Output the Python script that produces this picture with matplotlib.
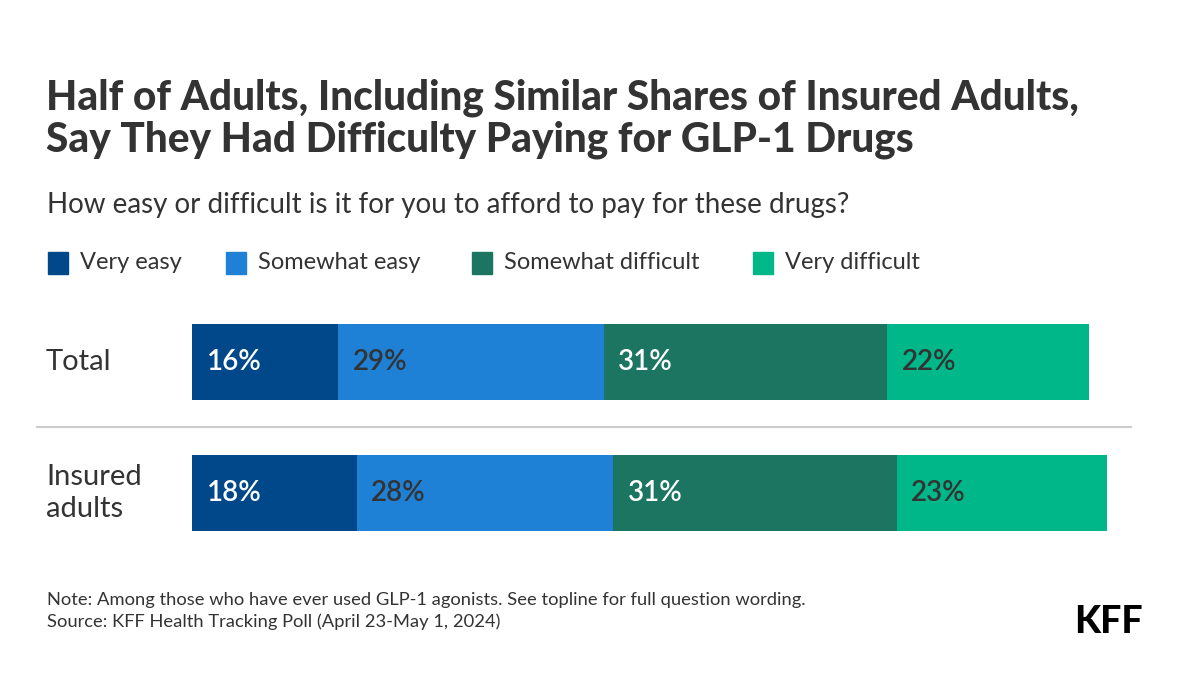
import matplotlib.pyplot as plt
import matplotlib.transforms as mtransforms
from matplotlib.lines import Line2D
from matplotlib.patches import Rectangle

W, H = 1200, 675

CATEGORIES = ["Total", "Insured\nadults"]
SERIES = ["Very easy", "Somewhat easy", "Somewhat difficult", "Very difficult"]
VALUES = {
    "Very easy": [16, 18],
    "Somewhat easy": [29, 28],
    "Somewhat difficult": [31, 31],
    "Very difficult": [22, 23],
}
COLORS = ["#00488a", "#1e81d6", "#1b7561", "#00b78a"]
LABEL_COLORS = ["white", "#333333", "white", "#333333"]
LEGEND_X = [48, 226, 472, 753]  # px, left edge of legend swatch

TITLE = "Half of Adults, Including Similar Shares of Insured Adults,\nSay They Had Difficulty Paying for GLP-1 Drugs"
SUBTITLE = "How easy or difficult is it for you to afford to pay for these drugs?"
NOTE = "Note: Among those who have ever used GLP-1 agonists. See topline for full question wording.\nSource: KFF Health Tracking Poll (April 23-May 1, 2024)"

TEXT = "#333333"
plt.rcParams["font.family"] = ["Lato", "DejaVu Sans"]


def fx(px):
    return px / W


def fy(py):
    return 1 - py / H


fig = plt.figure(figsize=(12, 6.75), dpi=100)
fig.patch.set_facecolor("white")

fig.text(fx(46), fy(119), TITLE, fontsize=29.2, fontweight="black", color=TEXT,
         va="center", ha="left", linespacing=1.1)
fig.text(fx(47), fy(205), SUBTITLE, fontsize=20, color=TEXT, va="center", ha="left")

for x, name, c in zip(LEGEND_X, SERIES, COLORS):
    fig.add_artist(Rectangle((fx(x), fy(274)), fx(20), 22 / H, color=c,
                             transform=fig.transFigure))
    fig.text(fx(x + 32), fy(263), name, fontsize=17, color=TEXT, va="center", ha="left")

# bars
ax = fig.add_axes([fx(192), fy(558.5), fx(915), 262 / H])
ax.set_xlim(0, 100)
ax.set_ylim(1.5, -0.5)
ax.axis("off")

ypos = list(range(len(CATEGORIES)))
left = [0] * len(CATEGORIES)
for name, c, lc in zip(SERIES, COLORS, LABEL_COLORS):
    vals = VALUES[name]
    ax.barh(ypos, vals, left=left, height=0.573, color=c, edgecolor="none")
    for y, v, l in zip(ypos, vals, left):
        ax.text(l + 1.6, y, f"{v}%", color=lc, fontsize=20, fontweight="semibold",
                va="center", ha="left")
    left = [l + v for l, v in zip(left, vals)]

trans = mtransforms.blended_transform_factory(fig.transFigure, ax.transData)
for y, cat in zip(ypos, CATEGORIES):
    ax.text(fx(46), y, cat, transform=trans, fontsize=21, color=TEXT,
            va="center", ha="left", linespacing=1.25)

fig.add_artist(Line2D([fx(37), fx(1131)], [fy(427), fy(427)], color="#cccccc",
                      linewidth=1.5, transform=fig.transFigure))

fig.text(fx(47), fy(611), NOTE, fontsize=13.2, color=TEXT, va="center", ha="left",
         linespacing=1.35)
fig.text(fx(1143), fy(622), "KFF", fontsize=27, fontweight="black", color="black",
         va="center", ha="right")

fig.savefig("out.png", dpi=100, facecolor="white")
